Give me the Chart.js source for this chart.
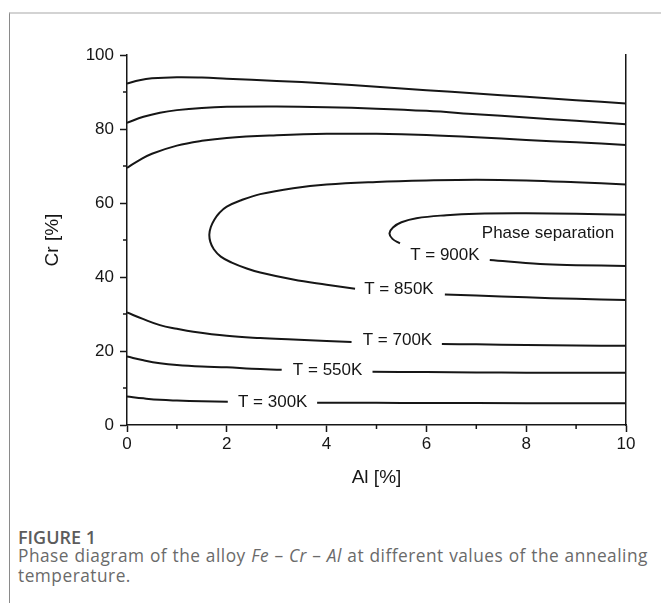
<!DOCTYPE html>
<html><head><meta charset="utf-8">
<script src="https://cdn.jsdelivr.net/npm/chart.js@4"></script>
<style>
html,body{margin:0;padding:0;background:#fff;}
body{width:661px;height:603px;position:relative;overflow:hidden;}
#frame{position:absolute;left:9px;top:12px;right:0;bottom:0;border-top:2px solid #d3d3d3;border-left:1px solid #8a8a8a;}
#wrap{position:absolute;left:0;top:0;width:661px;height:500px;}
#cap{position:absolute;left:18px;top:528px;width:643px;font-family:"Open Sans",sans-serif;color:#6a6a6a;}
.fig{font-weight:600;font-size:18px;line-height:18px;color:#5c5c5c;}
.txt{font-size:17.3px;line-height:20px;letter-spacing:0.5px;word-spacing:0.4px;}
</style></head>
<body>
<div id="frame"></div>
<div id="wrap"><canvas id="c" width="661" height="500"></canvas></div>
<div id="cap"><div class="fig">FIGURE 1</div><div class="txt">Phase diagram of the alloy <i>Fe</i> – <i>Cr</i> – <i>Al</i> at different values of the annealing temperature.</div></div>
<script>
// ---- tick values ----
const xMajorTicks = [0, 2, 4, 6, 8, 10];
const xMinorTicks = [1, 3, 5, 7, 9];
const yMajorTicks = [0, 20, 40, 60, 80, 100];
const yMinorTicks = [10, 30, 50, 70, 90];

// ---- contour curves (Al %, Cr %); null = break for label ----
const topAl  = [0, 0.25, 0.5, 1, 1.5, 2, 3, 4, 5, 6, 7, 8, 9, 10];
const topCr  = [92.3, 93.2, 93.7, 94.0, 93.9, 93.6, 93.0, 92.3, 91.4, 90.5, 89.6, 88.7, 87.8, 86.9];

const secAl  = [0, 0.33, 0.66, 1, 1.5, 2, 3, 4, 5, 6, 7, 8, 9, 10];
const secCr  = [81.7, 83.3, 84.4, 85.1, 85.7, 86.0, 86.1, 85.9, 85.5, 84.9, 84.0, 83.1, 82.2, 81.3];

const thirdAl = [0, 0.25, 0.5, 1, 1.5, 2, 3, 4, 5, 6, 7, 8, 9, 10];
const thirdCr = [69.5, 71.6, 73.3, 75.5, 76.8, 77.6, 78.3, 78.7, 78.7, 78.4, 77.8, 77.0, 76.4, 75.7];

const t850Al = [10, 9, 8, 7, 6, 5, 4, 3.33, 2.67, 2.3, 2.0, 1.85, 1.75, 1.68, 1.65, 1.67, 1.74, 1.88, 2.1, 2.4, 2.67, 3.33, 4, 4.57, 5.5, 6.37, 7, 8, 9, 10];
const t850Cr = [65.0, 65.6, 66.1, 66.3, 66.1, 65.7, 65.0, 64.0, 62.4, 60.8, 59.0, 57.3, 55.5, 53.5, 51.5, 49.5, 47.5, 45.5, 43.9, 42.3, 41.2, 39.3, 37.9, 36.8, null, 35.3, 35.0, 34.5, 34.1, 33.8];

const t900Al = [10, 9, 8, 7, 6.4, 5.8, 5.5, 5.33, 5.26, 5.32, 5.47, 6.4, 7.27, 8.28, 9, 10];
const t900Cr = [56.8, 57.1, 57.2, 57.1, 56.7, 55.9, 54.8, 53.4, 51.8, 50.3, 49.1, null, 44.6, 43.5, 43.2, 43.0];

const t700Al = [0, 0.33, 0.66, 1, 1.33, 2, 2.67, 3.33, 4, 4.5, 5.4, 6.31, 7, 8, 9, 10];
const t700Cr = [30.4, 28.6, 27.0, 26.0, 25.2, 24.1, 23.5, 23.1, 22.7, 22.4, null, 21.9, 21.8, 21.6, 21.5, 21.4];

const t550Al = [0, 0.33, 0.66, 1, 1.5, 2, 2.5, 3.1, 4.0, 4.92, 6, 7, 8, 10];
const t550Cr = [18.5, 17.5, 16.7, 16.2, 15.8, 15.6, 15.2, 14.9, null, 14.4, 14.3, 14.2, 14.15, 14.1];

const t300Al = [0, 0.33, 0.66, 1, 1.5, 2.02, 2.9, 3.81, 5, 6, 8, 10];
const t300Cr = [7.7, 7.2, 6.8, 6.6, 6.4, 6.3, null, 6.0, 6.0, 5.95, 5.9, 5.86];

// ---- in-plot labels ----
const labelTexts = ['Phase separation', 'T = 900K', 'T = 850K', 'T = 700K', 'T = 550K', 'T = 300K'];
const labelAl    = [7.11, 6.37, 5.45, 5.42, 4.02, 2.92];
const labelCr    = [51.8, 45.9, 36.7, 23.0, 14.9, 6.1];
const labelAlign = ['left', 'center', 'center', 'center', 'center', 'center'];

const curveSets = [[topAl, topCr], [secAl, secCr], [thirdAl, thirdCr], [t850Al, t850Cr], [t900Al, t900Cr], [t700Al, t700Cr], [t550Al, t550Cr], [t300Al, t300Cr]];

const INK = '#161616';
const FONT = "'Liberation Sans', Arial, sans-serif";

const datasets = curveSets.map(([xs, ys]) => ({
  data: xs.map((x, i) => ({x: x, y: ys[i]})),
  showLine: true,
  borderColor: INK,
  borderWidth: 2,
  pointRadius: 0,
  tension: 0.4,
  spanGaps: false,
  fill: false
}));

const minorTicks = {
  id: 'minorTicks',
  afterDraw(chart) {
    const ctx = chart.ctx, xs = chart.scales.x, ys = chart.scales.y;
    ctx.save();
    ctx.strokeStyle = INK; ctx.lineWidth = 1.5;
    xMinorTicks.forEach(v => {
      const p = xs.getPixelForValue(v);
      ctx.beginPath(); ctx.moveTo(p, chart.chartArea.bottom); ctx.lineTo(p, chart.chartArea.bottom + 4); ctx.stroke();
    });
    yMinorTicks.forEach(v => {
      const p = ys.getPixelForValue(v);
      ctx.beginPath(); ctx.moveTo(chart.chartArea.left, p); ctx.lineTo(chart.chartArea.left - 4, p); ctx.stroke();
    });
    ctx.restore();
  }
};

const curveLabels = {
  id: 'curveLabels',
  afterDatasetsDraw(chart) {
    const ctx = chart.ctx, xs = chart.scales.x, ys = chart.scales.y;
    ctx.save();
    ctx.fillStyle = INK;
    ctx.font = "17px " + FONT;
    ctx.textBaseline = 'middle';
    labelTexts.forEach((t, i) => {
      ctx.textAlign = labelAlign[i];
      ctx.fillText(t, xs.getPixelForValue(labelAl[i]), ys.getPixelForValue(labelCr[i]));
    });
    ctx.restore();
  }
};

new Chart(document.getElementById('c'), {
  type: 'scatter',
  data: { datasets: datasets },
  options: {
    responsive: false,
    animation: false,
    events: [],
    layout: { padding: { top: 55, right: 35, left: 0, bottom: 0 } },
    plugins: { legend: { display: false }, tooltip: { enabled: false } },
    scales: {
      x: {
        type: 'linear', position: 'bottom', min: 0, max: 10,
        afterBuildTicks: s => { s.ticks = xMajorTicks.map(v => ({value: v})); },
        afterFit: s => { s.height = 75; },
        ticks: { color: INK, font: { family: FONT, size: 17 }, padding: 2, maxRotation: 0 },
        grid: { drawOnChartArea: false, drawTicks: true, tickLength: 7, tickWidth: 1.5, tickColor: INK },
        border: { display: true, color: INK, width: 1.5 },
        title: { display: true, text: 'Al [%]', color: INK, font: { family: FONT, size: 19 }, padding: { top: 0, bottom: 11 } }
      },
      y: {
        type: 'linear', position: 'left', min: 0, max: 100,
        afterBuildTicks: s => { s.ticks = yMajorTicks.map(v => ({value: v})); },
        afterFit: s => { s.width = 127; },
        ticks: { color: INK, font: { family: FONT, size: 17 }, padding: 6 },
        grid: { drawOnChartArea: false, drawTicks: true, tickLength: 7, tickWidth: 1.5, tickColor: INK },
        border: { display: true, color: INK, width: 1.5 },
        title: { display: true, text: 'Cr [%]', color: INK, font: { family: FONT, size: 19 }, padding: { top: 41, bottom: 0 } }
      },
      y2: {
        type: 'linear', position: 'right', min: 0, max: 100,
        afterFit: s => { s.width = 0; },
        ticks: { display: false },
        grid: { drawOnChartArea: false, drawTicks: false },
        border: { display: true, color: INK, width: 1.5 }
      }
    }
  },
  plugins: [minorTicks, curveLabels]
});
</script>
</body></html>
